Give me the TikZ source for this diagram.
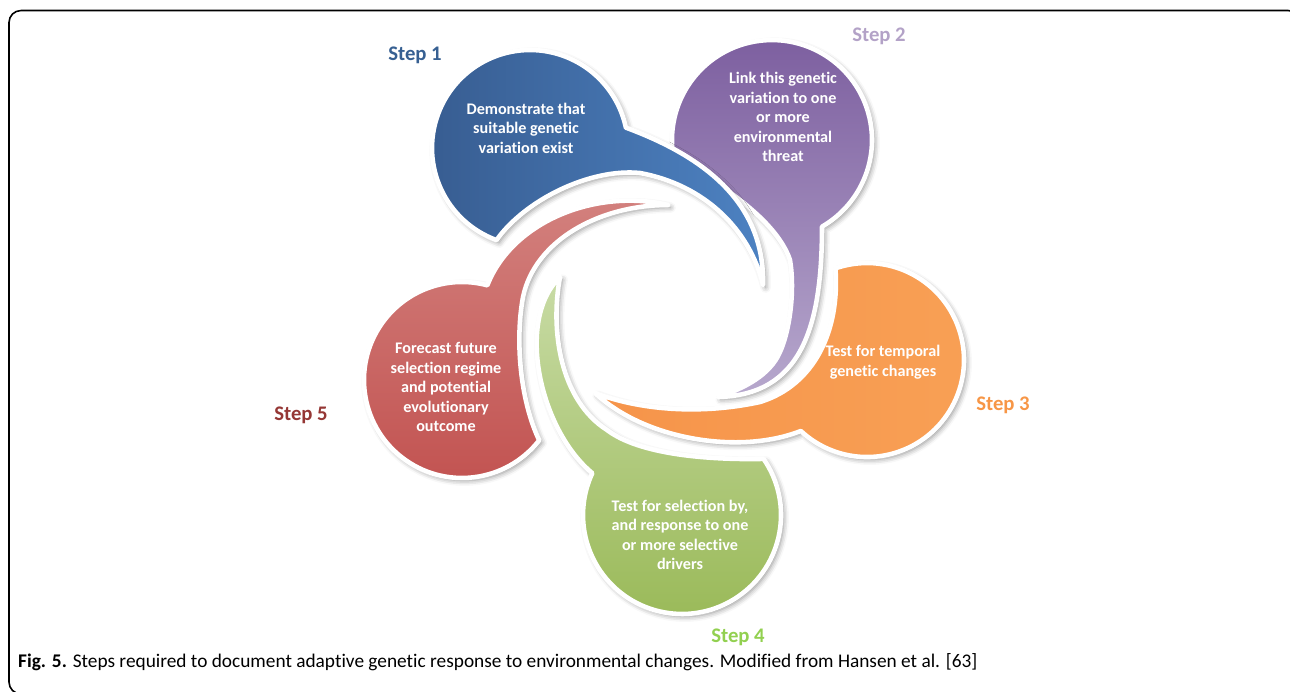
\documentclass[tikz,border=0pt]{standalone}
\usepackage{fontspec}
\setmainfont{Carlito}[Ligatures=NoCommon]
\usepackage{tikz}
\usetikzlibrary{shadows.blur}
\definecolor{blueDark}{HTML}{375C90}
\definecolor{blueLight}{HTML}{4D82C2}
\definecolor{purpleDark}{HTML}{7C5E9F}
\definecolor{purpleLight}{HTML}{B7A8CD}
\definecolor{orangeDark}{HTML}{F6944A}
\definecolor{orangeLight}{HTML}{F8A055}
\definecolor{greenLight}{HTML}{C8DBA5}
\definecolor{greenDark}{HTML}{99B957}
\definecolor{redDark}{HTML}{C25250}
\definecolor{redLight}{HTML}{D3827F}
\definecolor{labelOne}{HTML}{376092}
\definecolor{labelTwo}{HTML}{B3A2C7}
\definecolor{labelThree}{HTML}{F79646}
\definecolor{labelFour}{HTML}{92D050}
\definecolor{labelFive}{HTML}{953735}

\begin{document}
\begin{tikzpicture}[
x=0.02cm, y=-0.02cm,
petal/.style={draw=white, line width=2.6pt, line join=round,
  blur shadow={shadow xshift=1.5pt, shadow yshift=-1.5pt, shadow blur radius=3pt, shadow opacity=45}},
stepname/.style={font=\fontsize{11.8}{14}\selectfont\bfseries},
stepbody/.style={font=\fontsize{9.2}{11.1}\selectfont\bfseries, text=white, align=center}
]
    \useasboundingbox (0,0) rectangle (1290,691);
    % Frame
    \draw[line width=0.9pt, rounded corners=0.24cm] (1300,40) -- (1300,10.5) -- (9,10.5) -- (9,694) -- (30,694);

    % Petals (purple first, the blue tail lies over it)
    \draw[petal, top color=purpleDark, bottom color=purpleLight]
      (673.5,157.4) arc[start angle=170, end angle=420, radius=100]
      .. controls (822,330) and (800,395) .. (718,397)
      .. controls (745,388) and (770,375) .. (780,352)
      .. controls (790,330) and (795,290) .. (790,260)
      .. controls (775,215) and (705,175) .. (673.5,157.4) -- cycle;
    \draw[petal, left color=blueDark, right color=blueLight]
      (496.5,240.1) arc[start angle=110, end angle=348, radius=98]
      .. controls (700,155) and (765,200) .. (763,285)
      .. controls (750,230) and (705,185) .. (640,173)
      .. controls (590,168) and (525,200) .. (496.5,240.1) -- cycle;
    \draw[petal, top color=redLight, bottom color=redDark]
      (539.2,440.3) arc[start angle=38, end angle=285, radius=98]
      .. controls (512,222) and (595,188) .. (668,205)
      .. controls (600,205) and (535,240) .. (523,297)
      .. controls (515,340) and (520,400) .. (539.2,440.3) -- cycle;
    \draw[petal, top color=greenLight, bottom color=greenDark]
      (763.6,458.9) arc[start angle=-34.5, end angle=205, radius=99]
      .. controls (540,430) and (515,320) .. (560,277)
      .. controls (550,330) and (560,400) .. (607,430)
      .. controls (640,455) and (710,460) .. (763.6,458.9) -- cycle;
    \draw[petal, left color=orangeDark, right color=orangeLight]
      (835.4,268.3) arc[start angle=251, end angle=493, radius=97]
      .. controls (740,455) and (645,440) .. (595,393)
      .. controls (640,410) and (700,415) .. (760,402)
      .. controls (815,385) and (840,330) .. (835.4,268.3) -- cycle;

    % Texts
    \node[stepbody] (bodyOne) at (526,128) {Demonstrate that\\suitable genetic\\variation exist};
    \node[stepbody] (bodyTwo) at (783,117) {Link this genetic\\variation to one\\or more\\environmental\\threat};
    \node[stepbody] (bodyThree) at (883,362) {Test for temporal\\genetic changes};
    \node[stepbody] (bodyFour) at (680,535) {Test for selection by,\\and response to one\\or more selective\\drivers};
    \node[stepbody] (bodyFive) at (446,387) {Forecast future\\selection regime\\and potential\\evolutionary\\outcome};

    \node[stepname, text=labelOne] (nameOne) at (415,55) {Step 1};
    \node[stepname, text=labelTwo] (nameTwo) at (879,36) {Step 2};
    \node[stepname, text=labelThree] (nameThree) at (1003,405) {Step 3};
    \node[stepname, text=labelFour] (nameFour) at (738,637) {Step 4};
    \node[stepname, text=labelFive] (nameFive) at (301,415) {Step 5};

    \node[anchor=west, font=\fontsize{11}{13}\selectfont] (caption) at (12,662)
      {\textbf{Fig. 5.} Steps required to document adaptive genetic response to environmental changes. Modified from Hansen et al. [63]};
\end{tikzpicture}
\end{document}
